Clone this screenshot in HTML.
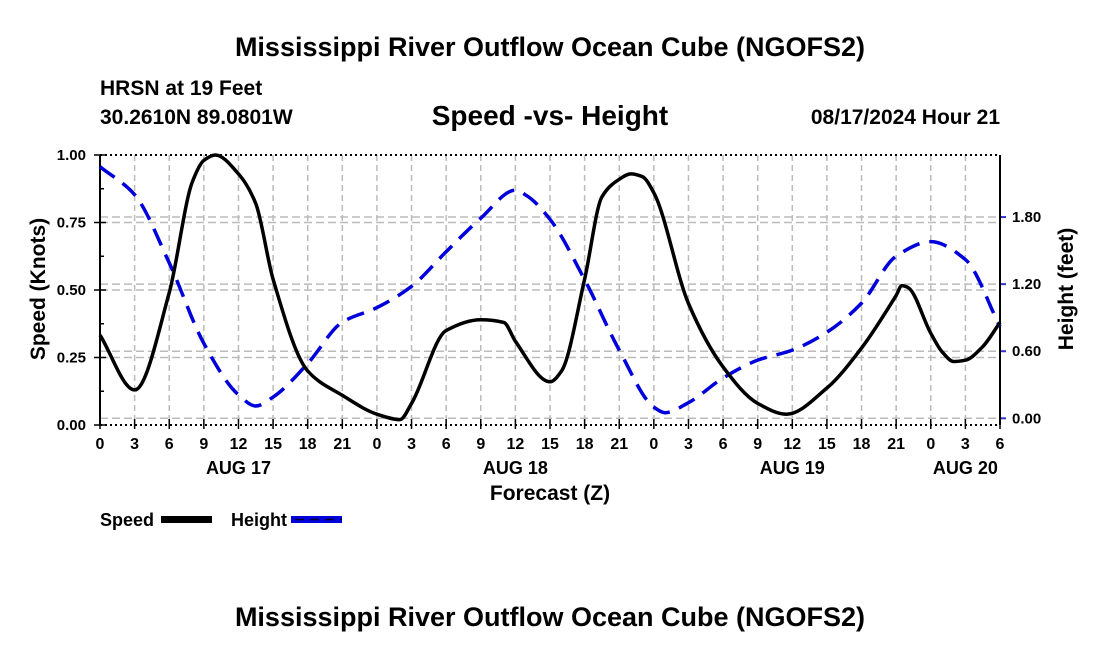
<!DOCTYPE html>
<html><head><meta charset="utf-8"><style>
body{margin:0;background:#fff;width:1100px;height:650px;overflow:hidden;font-family:"Liberation Sans",Arial,sans-serif}
svg text{font-family:"Liberation Sans",Arial,sans-serif;font-weight:bold;fill:#000}
</style></head><body>
<svg id="chart" width="1100" height="650" xmlns="http://www.w3.org/2000/svg">
<text x="550" y="56" font-size="27" text-anchor="middle">Mississippi River Outflow Ocean Cube (NGOFS2)</text>
<text x="100" y="95" font-size="21">HRSN at 19 Feet</text>
<text x="100" y="124" font-size="21">30.2610N  89.0801W</text>
<text x="550" y="125" font-size="28" text-anchor="middle">Speed -vs- Height</text>
<text x="1000" y="124" font-size="21" text-anchor="end">08/17/2024 Hour 21</text>
<g id="grid"></g>
<g id="axes"></g>
<g id="series"></g>
<text transform="translate(45,289) rotate(-90)" font-size="21" text-anchor="middle">Speed (Knots)</text>
<text transform="translate(1073,289) rotate(-90)" font-size="21" text-anchor="middle">Height (feet)</text>
<text x="550" y="500" font-size="21" text-anchor="middle">Forecast (Z)</text>
<g>
<text x="100" y="526" font-size="18">Speed</text>
<rect x="161" y="516" width="51" height="7" fill="#000"/>
<text x="231" y="526" font-size="18">Height</text>
<rect x="291" y="516" width="51" height="7" fill="#0000dd"/>
<line x1="295" y1="519.5" x2="342" y2="519.5" stroke="#000033" stroke-width="1.5" stroke-dasharray="9,6"/>
</g>
<text x="550" y="626" font-size="27" text-anchor="middle">Mississippi River Outflow Ocean Cube (NGOFS2)</text>
</svg>
<script>
const speedHours=[0,3,6,8,9,10,12,13.5,15,18,21,24,26,27,30,33,35,36,39,40,42,43.5,45,46,47,48,51,54,57,59.5,63,66,69,69.5,70,72,73,74,75,76.5,78];
const speedValues=[0.333,0.13,0.49,0.90,0.98,1.0,0.93,0.82,0.54,0.20,0.11,0.04,0.02,0.08,0.35,0.39,0.38,0.31,0.16,0.20,0.54,0.845,0.91,0.93,0.92,0.86,0.45,0.215,0.08,0.04,0.137,0.285,0.48,0.516,0.51,0.34,0.27,0.235,0.24,0.29,0.38];
const heightHours=[0,3,6,9,12,13.5,15,18,21,24,27,30,33,36,37,39,42,45,48,49,51,54,57,60,63,66,69,72,75,78];
const heightValues=[2.25,2.0,1.39,0.67,0.21,0.11,0.19,0.49,0.86,0.99,1.18,1.49,1.79,2.04,1.99,1.78,1.24,0.61,0.10,0.05,0.14,0.36,0.52,0.61,0.77,1.03,1.45,1.58,1.42,0.82];
const xTickLabels=["0","3","6","9","12","15","18","21","0","3","6","9","12","15","18","21","0","3","6","9","12","15","18","21","0","3","6"];
const dayLabels=["AUG 17","AUG 18","AUG 19","AUG 20"];
const dayLabelHours=[12,36,60,75];
const speedTicks=[0,0.25,0.5,0.75,1.0];
const heightTicks=[0,0.6,1.2,1.8];

const X0=100,X1=1000,Y0=425,Y1=155;
const xs=h=>X0+h*(X1-X0)/78;
const ys=v=>Y0-v*(Y0-Y1);
const yh=v=>418.3-v*111.8;
const NS="http://www.w3.org/2000/svg";
function mk(tag,attrs,parent){const e=document.createElementNS(NS,tag);for(const k in attrs)e.setAttribute(k,attrs[k]);parent.appendChild(e);return e;}
const grid=document.getElementById('grid'),axes=document.getElementById('axes'),series=document.getElementById('series');
xTickLabels.forEach((l,i)=>{const x=xs(i*3);
 if(i>0&&i<26){const g=mk('line',{x1:x,x2:x,y1:Y1,y2:Y0,stroke:'#bbb','stroke-width':1.5,'stroke-dasharray':'6,4'},grid);
 
 }
 const t=mk('line',{x1:x,x2:x,y1:Y0-6,y2:Y0+4,stroke:'#000','stroke-width':1.5},axes);
 
 
 const tx=mk('text',{x:x,y:449,'font-size':16,'text-anchor':'middle'},axes);tx.textContent=l;
 
 
});
dayLabels.forEach((d,i)=>{const t=mk('text',{x:xs(dayLabelHours[i]),y:474,'font-size':18,'text-anchor':'middle'},axes);t.textContent=d;
 
 });
speedTicks.forEach(v=>{const y=ys(v);
 if(v>0&&v<1){const g=mk('line',{x1:X0,x2:X1,y1:y,y2:y,stroke:'#bbb','stroke-width':1.5,'stroke-dasharray':'8,4'},grid);
 
 }
 const t=mk('line',{x1:X0-6,x2:X0+6,y1:y,y2:y,stroke:'#000','stroke-width':1.5},axes);
 
 
 const tx=mk('text',{x:86,y:y+5,'font-size':15,'text-anchor':'end'},axes);tx.textContent=v.toFixed(2);
 
 });
[0.125,0.375,0.625,0.875].forEach(v=>{const y=ys(v);const m=mk('line',{x1:X0,x2:X0+4,y1:y,y2:y,stroke:'#000','stroke-width':1.5},axes);
 
 });
heightTicks.forEach(v=>{const y=yh(v);
 const g=mk('line',{x1:X0,x2:X1,y1:y,y2:y,stroke:'#bbb','stroke-width':1.5,'stroke-dasharray':'8,4'},grid);
 
 
 const t=mk('line',{x1:X1,x2:X1+6,y1:y,y2:y,stroke:'#3333cc','stroke-width':2},axes);
 
 
 const tx=mk('text',{x:1012,y:y+5,'font-size':15},axes);tx.textContent=v.toFixed(2);
 
 });
[[X0,Y1,X1,Y1],[X0,Y0,X1,Y0]].forEach(a=>{const l=mk('line',{x1:a[0],y1:a[1],x2:a[2],y2:a[3],stroke:'#000','stroke-width':2,'stroke-dasharray':'2,3'},axes);
 
 });
const la=mk('line',{x1:X0,y1:Y1,x2:X0,y2:Y0,stroke:'#000','stroke-width':2},axes);


const ra=mk('line',{x1:X1,y1:Y1,x2:X1,y2:Y0,stroke:'#000','stroke-width':2},axes);


// monotone cubic interpolation (Fritsch-Carlson)
function monotone(xsA,ysA){const n=xsA.length,d=[],m=[];
 for(let i=0;i<n-1;i++)d.push((ysA[i+1]-ysA[i])/(xsA[i+1]-xsA[i]));
 m[0]=d[0];m[n-1]=d[n-2];
 for(let i=1;i<n-1;i++){if(d[i-1]*d[i]<=0)m[i]=0;else{const h0=xsA[i]-xsA[i-1],h1=xsA[i+1]-xsA[i];
  const w1=2*h1+h0,w2=h1+2*h0;m[i]=(w1+w2)/(w1/d[i-1]+w2/d[i]);}}
 let s=`M${xsA[0]},${ysA[0]}`;
 for(let i=0;i<n-1;i++){const h=xsA[i+1]-xsA[i];
  s+=` C${xsA[i]+h/3},${ysA[i]+m[i]*h/3} ${xsA[i+1]-h/3},${ysA[i+1]-m[i+1]*h/3} ${xsA[i+1]},${ysA[i+1]}`;}
 return s;}
const hp=mk('path',{d:monotone(heightHours.map(xs),heightValues.map(yh)),fill:'none',stroke:'#0000dd','stroke-width':3.5,'stroke-dasharray':'18,10'},series);


const sp=mk('path',{d:monotone(speedHours.map(xs),speedValues.map(ys)),fill:'none',stroke:'#000','stroke-width':3.5},series);


</script>
</body></html>
